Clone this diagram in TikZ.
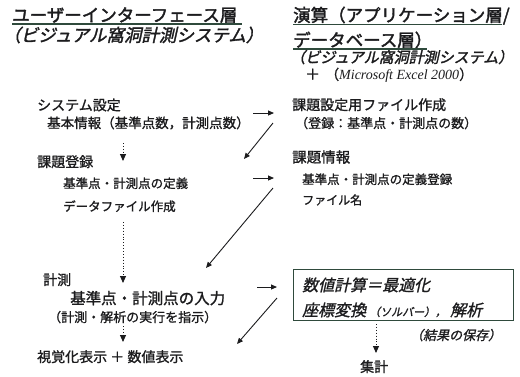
\documentclass[tikz,border=0pt]{standalone}
\usepackage{fontspec}
\setmainfont{Noto Sans CJK JP}[FakeBold=1.2]
\newfontfamily\hvfont{Noto Sans CJK JP}[FakeBold=2.0]
\newfontfamily\cjkit{Noto Sans CJK JP}[FakeSlant=0.22,FakeBold=1.2]
\newfontfamily\cjkitb{Noto Sans CJK JP}[FakeSlant=0.22,FakeBold=1.8]
\newfontfamily\latit{Liberation Serif}
\usetikzlibrary{arrows.meta}
\definecolor{ink}{HTML}{1C1C1E}
\definecolor{uline}{HTML}{2F4A3C}
\begin{document}
\begin{tikzpicture}[x=1pt,y=-1pt,
  txt/.style={anchor=base west,inner sep=0pt,text=ink},
  f/.style={font=\fontsize{#1}{#1}\selectfont},
  fh/.style={font=\fontsize{#1}{#1}\selectfont\hvfont},
  fi/.style={font=\fontsize{#1}{#1}\selectfont\cjkit},
  fib/.style={font=\fontsize{#1}{#1}\selectfont\cjkitb},
  ul/.style={draw=uline,line width=1.2pt},
  sarrow/.style={draw=ink,line width=0.9pt,-{Triangle[length=6pt,width=5pt]}},
  darrow/.style={draw=ink,line width=0.9pt,dotted,-{Triangle[length=7pt,width=6pt,fill=ink]}},
  resbox/.style={draw=uline,line width=1pt}]
\useasboundingbox[fill=white] (0,0) rectangle (520,376);
% titles
\node[txt,fh=17.5] (t1) at (12,21.6) {ユーザーインターフェース層};
\draw[ul] (t1.base west|-0,24) -- (242,24);
\node[txt,fib=17.5] (t1b) at (3,41.6) {（ビジュアル窩洞計測システム）};
\node[txt,fh=17.5] (r1) at (293,21.6) {演算（アプリケーション層/};
\draw[ul] (293,24.5) -- (502,24.5);
\node[txt,fh=17.5] (r2) at (293,46.6) {データベース層）};
\draw[ul] (293,49) -- (427,49);
\node[txt,fib=15] (r3) at (290,62.8) {（ビジュアル窩洞計測システム）};
\node[txt,f=15] (r4) at (305,79.7) {＋\hspace{5pt}{\fontsize{14}{14}\selectfont（{\latit\itshape Microsoft Excel 2000}）}};
% left column
\node[txt,f=14] (a1) at (37,110.3) {システム設定};
\node[txt,f=13.5] (a2) at (47,128) {基本情報（基準点数，計測点数）};
\node[txt,f=14] (a3) at (37,167) {課題登録};
\node[txt,f=12.5] (a4) at (63,188) {基準点・計測点の定義};
\node[txt,f=12.5] (a5) at (63,211) {データファイル作成};
\node[txt,f=14] (a6) at (43,285) {計測};
\node[txt,f=15.5] (a7) at (70,304) {基準点・計測点の入力};
\node[txt,f=13] (a8) at (48,322) {（計測・解析の実行を指示）};
\node[txt,f=14] (a9) at (37,362) {視覚化表示 ＋ 数値表示};
% right column
\node[txt,f=14] (b1) at (292,110) {課題設定用ファイル作成};
\node[txt,f=13] (b2) at (295,128) {（登録：基準点・計測点の数）};
\node[txt,f=14.5] (b3) at (292,162.5) {課題情報};
\node[txt,f=12.5] (b4) at (302,184) {基準点・計測点の定義登録};
\node[txt,f=12] (b5) at (302,204.5) {ファイル名};
\node[resbox,minimum width=220pt,minimum height=51pt,inner sep=0pt] (box) at (403,294.5) {};
\node[txt,fi=16] (b6) at (302,291) {数値計算＝最適化};
\node[txt,fi=16] (b7) at (302,316) {座標変換\hspace{3pt}{\fontsize{11}{11}\selectfont（ソルバー），}\hspace{4pt}解析};
\node[txt,fi=13] (b8) at (410,340) {（結果の保存）};
\node[txt,f=14] (b9) at (360,372) {集計};
% dotted arrows
\coordinate (d1s) at (123,143); \coordinate (d1e) at (123,161);
\coordinate (d2s) at (123,222); \coordinate (d2e) at (123,283);
\coordinate (d3s) at (123,326); \coordinate (d3e) at (123,342);
\coordinate (d4s) at (376,324); \coordinate (d4e) at (376,353);
\draw[darrow] (d1s) -- (d1e);
\draw[darrow] (d2s) -- (d2e);
\draw[darrow] (d3s) -- (d3e);
\draw[darrow] (d4s) -- (d4e);
% solid arrows
\coordinate (h1s) at (253,113); \coordinate (h1e) at (274,113);
\coordinate (g1s) at (273,123); \coordinate (g1e) at (244,159);
\coordinate (h2s) at (253,178); \coordinate (h2e) at (274,178);
\coordinate (g2s) at (273,188); \coordinate (g2e) at (206,268);
\coordinate (h3s) at (257,287); \coordinate (h3e) at (277,287);
\coordinate (g3s) at (277,298); \coordinate (g3e) at (237,344);
\draw[sarrow] (h1s) -- (h1e);
\draw[sarrow] (g1s) -- (g1e);
\draw[sarrow] (h2s) -- (h2e);
\draw[sarrow] (g2s) -- (g2e);
\draw[sarrow] (h3s) -- (h3e);
\draw[sarrow] (g3s) -- (g3e);
\end{tikzpicture}
\end{document}
